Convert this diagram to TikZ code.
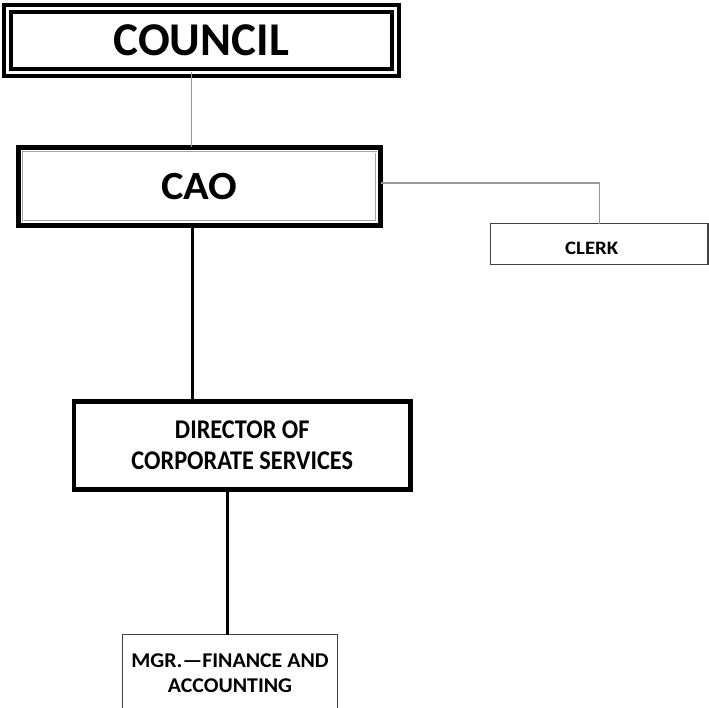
\documentclass[tikz,border=0pt]{standalone}
\usepackage{fontspec}
\setmainfont{Carlito}
\begin{document}
\begin{tikzpicture}[x=1pt,y=-1pt,
    box/.style={draw,inner sep=0pt,outer sep=0pt,align=center},
    councilbox/.style={box,line width=4pt,double,double distance=3pt},
    caobox/.style={box,line width=5pt},
    dirbox/.style={box,line width=4.5pt},
    smallbox/.style={box,draw=black!75,line width=1.1pt},
    innerframe/.style={draw=gray!70,line width=.4pt,double,double distance=.8pt},
    thinlink/.style={draw=gray!80,line width=1.3pt},
    thicklink/.style={draw=black,line width=3pt}]
  \useasboundingbox (0,0) rectangle (709,708);
  % boxes
  \node[councilbox,minimum width=387.5pt,minimum height=64pt,
    font=\fontsize{47}{50}\selectfont\bfseries] (council) at (201.25,40.5) {COUNCIL};
  \node[caobox,minimum width=362pt,minimum height=78pt,
    font=\fontsize{40}{44}\selectfont\bfseries\addfontfeature{FakeStretch=1.06}] (cao) at (199.5,186.5) {CAO};
  \draw[innerframe] ([shift={(4.5,4.5)}]cao.north west) rectangle ([shift={(-4.5,-4.5)}]cao.south east);
  \node[smallbox,minimum width=217.5pt,minimum height=40.7pt,text height=20pt,text depth=0pt,
    font=\fontsize{19}{22}\selectfont\bfseries\addfontfeature{FakeStretch=1.1}] (clerk) at (599.25,244.2)
    {\hspace*{-15pt}CLERK};
  \node[dirbox,minimum width=336.5pt,minimum height=88pt,
    font=\fontsize{27}{31}\selectfont\bfseries\addfontfeature{FakeStretch=0.9}] (dir) at (242.25,445.5)
    {DIRECTOR OF\\CORPORATE SERVICES};
  \node[smallbox,minimum width=215pt,minimum height=77pt,
    font=\fontsize{21}{25.5}\selectfont\bfseries\addfontfeature{FakeStretch=1.04}] (mgr) at (230,673)
    {MGR.---FINANCE AND\\ACCOUNTING};
  % links
  \begin{scope}[-]
    \draw[thinlink] ([xshift=-9.5pt]council.south) -- ([xshift=-9.5pt]council.south |- cao.north);
    \draw[thinlink] ([yshift=3.5pt]cao.east) -| (clerk.north);
    \draw[thicklink] ([xshift=-7.5pt]cao.south) -- ([xshift=-7.5pt]cao.south |- dir.north);
    \draw[thicklink] ([xshift=-15pt]dir.south) -- ([xshift=-15pt]dir.south |- mgr.north);
  \end{scope}
\end{tikzpicture}
\end{document}
